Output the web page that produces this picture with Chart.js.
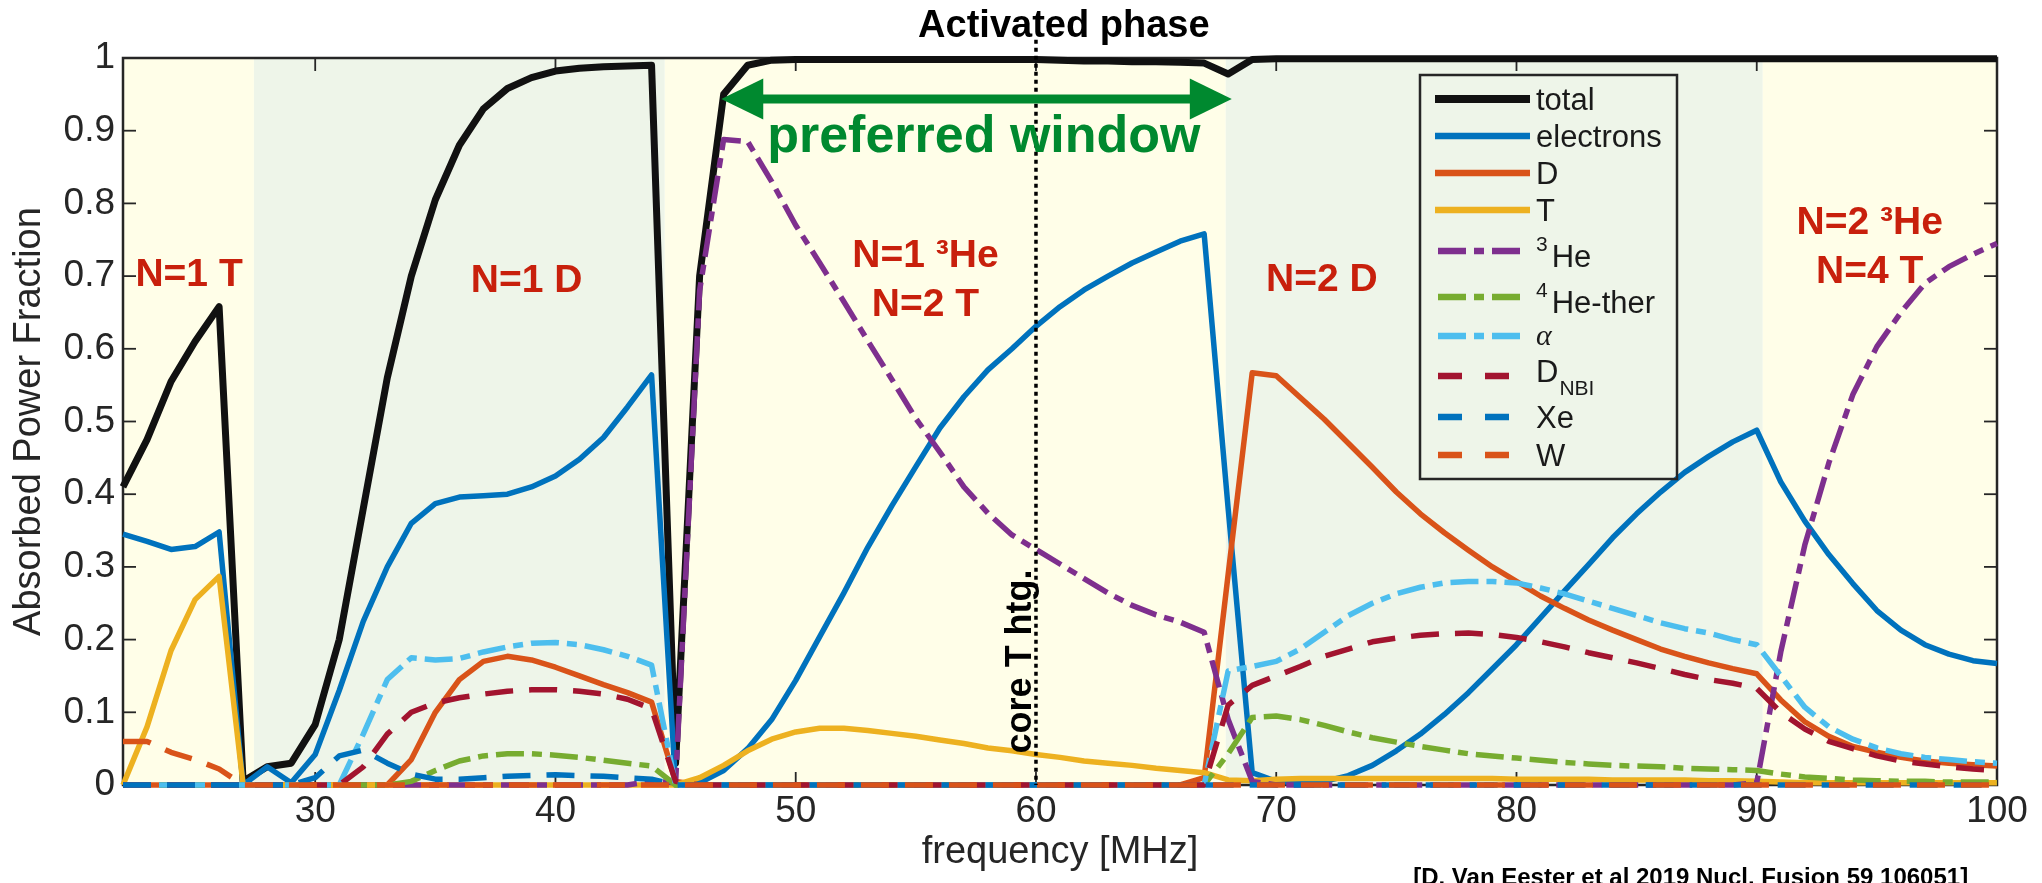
<!DOCTYPE html>
<html>
<head>
<meta charset="utf-8">
<title>Absorbed power fraction vs frequency</title>
<script src="https://cdn.jsdelivr.net/npm/chart.js@4.4.1/dist/chart.umd.min.js"></script>
<style>
  html, body { margin: 0; padding: 0; background: #fff; }
  canvas { display: block; }
</style>
</head>
<body>
<canvas id="chart" width="2042" height="883"></canvas>
<script>
// frequency grid [MHz]
const freq = [22, 23, 24, 25, 26, 27, 28, 29,
  30, 31, 32, 33, 34, 35, 36, 37, 38, 39,
  40, 41, 42, 43, 44, 45, 46, 47, 48, 49,
  50, 51, 52, 53, 54, 55, 56, 57, 58, 59,
  60, 61, 62, 63, 64, 65, 66, 67, 68, 69,
  70, 71, 72, 73, 74, 75, 76, 77, 78, 79,
  80, 81, 82, 83, 84, 85, 86, 87, 88, 89,
  90, 91, 92, 93, 94, 95, 96, 97, 98, 99,
  100];

// absorbed power fractions, one value per frequency
const total = [0.41, 0.475, 0.555, 0.61, 0.658, 0.005, 0.025, 0.03,
  0.083, 0.2, 0.38, 0.56, 0.70, 0.805, 0.88, 0.93, 0.958, 0.973,
  0.982, 0.986, 0.988, 0.989, 0.99, 0.03, 0.70, 0.95, 0.99, 0.997,
  0.998, 0.998, 0.998, 0.998, 0.998, 0.998, 0.998, 0.998, 0.998, 0.998,
  0.998, 0.997, 0.996, 0.996, 0.995, 0.995, 0.994, 0.993, 0.978, 0.998,
  0.999, 0.999, 0.999, 0.999, 0.999, 0.999, 0.999, 0.999, 0.999, 0.999,
  0.999, 0.999, 0.999, 0.999, 0.999, 0.999, 0.999, 0.999, 0.999, 0.999,
  0.999, 0.999, 0.999, 0.999, 0.999, 0.999, 0.999, 0.999, 0.999, 0.999,
  0.999];

const electrons = [0.345, 0.335, 0.324, 0.328, 0.348, 0.0, 0.025, 0.003,
  0.042, 0.13, 0.225, 0.30, 0.36, 0.387, 0.396, 0.398, 0.40, 0.41,
  0.425, 0.448, 0.478, 0.52, 0.564, 0.0, 0.003, 0.02, 0.05, 0.09,
  0.144, 0.204, 0.264, 0.327, 0.384, 0.438, 0.491, 0.534, 0.571, 0.60,
  0.631, 0.658, 0.681, 0.70, 0.718, 0.733, 0.748, 0.758, 0.38, 0.017,
  0.005, 0.003, 0.005, 0.013, 0.027, 0.047, 0.07, 0.097, 0.127, 0.16,
  0.193, 0.23, 0.267, 0.303, 0.34, 0.373, 0.403, 0.43, 0.452, 0.472,
  0.488, 0.417, 0.363, 0.317, 0.277, 0.24, 0.213, 0.193, 0.18, 0.171,
  0.167];

const deuterium = [0, 0, 0, 0, 0, 0, 0, 0,
  0, 0, 0, 0, 0.035, 0.10, 0.145, 0.17, 0.177, 0.172,
  0.162, 0.15, 0.138, 0.127, 0.114, 0.005, 0, 0, 0, 0,
  0, 0, 0, 0, 0, 0, 0, 0, 0, 0,
  0, 0, 0, 0, 0, 0, 0, 0.01, 0.29, 0.567,
  0.563, 0.533, 0.503, 0.47, 0.437, 0.403, 0.373, 0.347, 0.323, 0.30,
  0.28, 0.26, 0.243, 0.227, 0.213, 0.20, 0.187, 0.177, 0.168, 0.16,
  0.153, 0.117, 0.087, 0.067, 0.053, 0.045, 0.038, 0.033, 0.03, 0.028,
  0.026];

const tritium = [0, 0.08, 0.185, 0.255, 0.287, 0, 0, 0,
  0, 0, 0, 0, 0, 0, 0, 0, 0, 0,
  0, 0, 0, 0, 0, 0, 0.01, 0.027, 0.047, 0.063,
  0.073, 0.078, 0.078, 0.075, 0.071, 0.067, 0.062, 0.057, 0.051, 0.047,
  0.042, 0.038, 0.033, 0.03, 0.027, 0.023, 0.02, 0.017, 0.007, 0.006,
  0.008, 0.009, 0.009, 0.009, 0.009, 0.009, 0.009, 0.009, 0.009, 0.009,
  0.008, 0.008, 0.008, 0.008, 0.007, 0.007, 0.007, 0.007, 0.006, 0.006,
  0.005, 0.004, 0.003, 0.003, 0.003, 0.003, 0.003, 0.003, 0.003, 0.003,
  0.003];

const helium3 = [0, 0, 0, 0, 0, 0, 0, 0,
  0, 0, 0, 0, 0, 0, 0, 0, 0, 0,
  0, 0, 0, 0, 0.005, 0.003, 0.68, 0.888, 0.885, 0.83,
  0.77, 0.718, 0.665, 0.611, 0.558, 0.504, 0.458, 0.41, 0.374, 0.344,
  0.324, 0.304, 0.284, 0.264, 0.247, 0.234, 0.224, 0.21, 0.09, 0.005,
  0, 0, 0, 0, 0, 0, 0, 0, 0, 0,
  0, 0, 0, 0, 0, 0, 0, 0, 0, 0,
  0.003, 0.183, 0.33, 0.443, 0.537, 0.603, 0.65, 0.69, 0.713, 0.73,
  0.745];

const helium4Ther = [0, 0, 0, 0, 0, 0, 0, 0,
  0, 0, 0, 0, 0.005, 0.02, 0.033, 0.04, 0.043, 0.043,
  0.041, 0.038, 0.034, 0.03, 0.026, 0, 0, 0, 0, 0,
  0, 0, 0, 0, 0, 0, 0, 0, 0, 0,
  0, 0, 0, 0, 0, 0, 0, 0, 0.043, 0.093,
  0.095, 0.09, 0.082, 0.073, 0.065, 0.059, 0.053, 0.048, 0.043, 0.04,
  0.037, 0.034, 0.031, 0.029, 0.027, 0.026, 0.025, 0.023, 0.022, 0.021,
  0.02, 0.015, 0.011, 0.009, 0.007, 0.006, 0.005, 0.005, 0.004, 0.004,
  0.004];

const alphas = [0, 0, 0, 0, 0, 0, 0, 0,
  0, 0, 0.07, 0.145, 0.175, 0.172, 0.174, 0.183, 0.19, 0.195,
  0.196, 0.193, 0.186, 0.177, 0.165, 0, 0, 0, 0, 0,
  0, 0, 0, 0, 0, 0, 0, 0, 0, 0,
  0, 0, 0, 0, 0, 0, 0, 0, 0.157, 0.163,
  0.17, 0.187, 0.21, 0.233, 0.25, 0.263, 0.272, 0.278, 0.28, 0.28,
  0.278, 0.271, 0.263, 0.253, 0.243, 0.233, 0.223, 0.215, 0.209, 0.2,
  0.193, 0.15, 0.107, 0.08, 0.063, 0.051, 0.043, 0.038, 0.035, 0.032,
  0.03];

const deutNbi = [0, 0, 0, 0, 0, 0, 0, 0,
  0, 0, 0.025, 0.07, 0.1, 0.113, 0.12, 0.125, 0.129, 0.131,
  0.131, 0.129, 0.125, 0.118, 0.105, 0.005, 0, 0, 0, 0,
  0, 0, 0, 0, 0, 0, 0, 0, 0, 0,
  0, 0, 0, 0, 0, 0, 0, 0, 0.11, 0.137,
  0.15, 0.163, 0.177, 0.187, 0.197, 0.202, 0.206, 0.208, 0.209, 0.207,
  0.203, 0.197, 0.19, 0.182, 0.175, 0.168, 0.16, 0.152, 0.145, 0.14,
  0.133, 0.1, 0.077, 0.06, 0.05, 0.04, 0.033, 0.029, 0.025, 0.022,
  0.02];

const xenon = [0, 0, 0, 0, 0, 0, 0, 0,
  0.01, 0.04, 0.048, 0.03, 0.015, 0.008, 0.008, 0.01, 0.012, 0.013,
  0.014, 0.013, 0.012, 0.01, 0.008, 0, 0, 0, 0, 0,
  0, 0, 0, 0, 0, 0, 0, 0, 0, 0,
  0, 0, 0, 0, 0, 0, 0, 0, 0, 0,
  0, 0, 0, 0, 0, 0, 0, 0, 0, 0,
  0, 0, 0, 0, 0, 0, 0, 0, 0, 0,
  0, 0, 0, 0, 0, 0, 0, 0, 0, 0,
  0];

const tungsten = [0.06, 0.06, 0.045, 0.035, 0.022, 0, 0, 0,
  0, 0, 0, 0, 0, 0, 0, 0, 0, 0,
  0, 0, 0, 0, 0, 0, 0, 0, 0, 0,
  0, 0, 0, 0, 0, 0, 0, 0, 0, 0,
  0, 0, 0, 0, 0, 0, 0, 0, 0, 0,
  0, 0, 0, 0, 0, 0, 0, 0, 0, 0,
  0, 0, 0, 0, 0, 0, 0, 0, 0, 0,
  0, 0, 0, 0, 0, 0, 0, 0, 0, 0,
  0];

// legend names (^ = superscript char, _ = subscript rest)
const seriesNames = ['total', 'electrons', 'D', 'T', '^3He', '^4He-ther', 'α', 'D_NBI', 'Xe', 'W'];
const seriesValues = [total, electrons, deuterium, tritium, helium3, helium4Ther, alphas, deutNbi, xenon, tungsten];

// axis ticks
const xTicks = [30, 40, 50, 60, 70, 80, 90, 100];
const yTicks = [0, 0.1, 0.2, 0.3, 0.4, 0.5, 0.6, 0.7, 0.8, 0.9, 1];

// shaded resonance windows [MHz]
const regionFrom = [22, 27.45, 44.55, 67.9, 90.25];
const regionTo = [27.45, 44.55, 67.9, 90.25, 100];

// ---- styles ----
const FONT = "'Liberation Sans', Arial, Helvetica, sans-serif";
const AXIS_COLOR = '#262626';
const RED = '#c8200c';
const GREEN = '#00892f';
const regionColors = ['#fffee8', '#eef5e9', '#fffee8', '#eef5e9', '#fffee8'];
const DASH = [28, 16];
const DASHDOT = [28, 8, 10, 8];
const lineStyles = [
  { color: '#111111', width: 7, dash: [] },
  { color: '#0072bd', width: 5.5, dash: [] },
  { color: '#d95319', width: 5.5, dash: [] },
  { color: '#edb120', width: 5.5, dash: [] },
  { color: '#7e2f8e', width: 5.5, dash: DASHDOT },
  { color: '#77ac30', width: 5.5, dash: DASHDOT },
  { color: '#4dbeee', width: 5.5, dash: DASHDOT },
  { color: '#a2142f', width: 5.5, dash: DASH },
  { color: '#0072bd', width: 5.5, dash: DASH },
  { color: '#d95319', width: 5.5, dash: DASH }
];

function drawText(ctx, str, px, py, font, color, align) {
  ctx.font = font;
  ctx.fillStyle = color;
  ctx.textAlign = align || 'center';
  ctx.textBaseline = 'alphabetic';
  ctx.fillText(str, px, py);
}

function line(ctx, x0, y0, x1, y1) {
  ctx.beginPath();
  ctx.moveTo(x0, y0);
  ctx.lineTo(x1, y1);
  ctx.stroke();
}

// background windows + matlab-like box, drawn under the curves
const backgroundPlugin = {
  id: 'background',
  beforeDatasetsDraw(chart) {
    const { ctx, chartArea: a, scales: { x, y } } = chart;
    ctx.save();
    regionFrom.forEach((f, i) => {
      const x0 = x.getPixelForValue(f);
      const x1 = x.getPixelForValue(regionTo[i]);
      ctx.fillStyle = regionColors[i];
      ctx.fillRect(x0, a.top, x1 - x0, a.bottom - a.top);
    });
    ctx.strokeStyle = AXIS_COLOR;
    ctx.lineWidth = 2.5;
    ctx.strokeRect(a.left, a.top, a.right - a.left, a.bottom - a.top);
    ctx.lineWidth = 1.8;
    xTicks.forEach(v => {
      const px = x.getPixelForValue(v);
      line(ctx, px, a.bottom, px, a.bottom - 13);
      line(ctx, px, a.top, px, a.top + 13);
    });
    yTicks.forEach(v => {
      const py = y.getPixelForValue(v);
      line(ctx, a.left, py, a.left + 13, py);
      line(ctx, a.right, py, a.right - 13, py);
    });
    ctx.restore();
  }
};

// notes, arrow, dotted marker and legend on top
const notesPlugin = {
  id: 'notes',
  afterDatasetsDraw(chart) {
    const { ctx, chartArea: a, scales: { x, y } } = chart;
    ctx.save();

    // core T heating marker at 60 MHz
    ctx.strokeStyle = '#000';
    ctx.lineWidth = 3.5;
    ctx.setLineDash([4, 4]);
    line(ctx, x.getPixelForValue(60), y.getPixelForValue(1.025), x.getPixelForValue(60), a.bottom);
    ctx.setLineDash([]);

    drawText(ctx, 'Activated phase', x.getPixelForValue(61.16), y.getPixelForValue(1.029), 'bold 38px ' + FONT, '#000');

    // preferred window arrow
    const ay = y.getPixelForValue(0.9436);
    const xl = x.getPixelForValue(46.9);
    const xr = x.getPixelForValue(68.15);
    const head = 42, half = 20.5;
    ctx.strokeStyle = GREEN;
    ctx.fillStyle = GREEN;
    ctx.lineWidth = 9;
    line(ctx, xl + head - 2, ay, xr - head + 2, ay);
    ctx.beginPath();
    ctx.moveTo(xl, ay); ctx.lineTo(xl + head, ay - half); ctx.lineTo(xl + head, ay + half);
    ctx.closePath(); ctx.fill();
    ctx.beginPath();
    ctx.moveTo(xr, ay); ctx.lineTo(xr - head, ay - half); ctx.lineTo(xr - head, ay + half);
    ctx.closePath(); ctx.fill();
    drawText(ctx, 'preferred window', x.getPixelForValue(57.83), y.getPixelForValue(0.8707), 'bold 52px ' + FONT, GREEN);

    // resonance labels
    const red = 'bold 39px ' + FONT;
    drawText(ctx, 'N=1 T', x.getPixelForValue(24.75), y.getPixelForValue(0.686), red, RED);
    drawText(ctx, 'N=1 D', x.getPixelForValue(38.8), y.getPixelForValue(0.678), red, RED);
    drawText(ctx, 'N=1 ³He', x.getPixelForValue(55.4), y.getPixelForValue(0.7125), red, RED);
    drawText(ctx, 'N=2 T', x.getPixelForValue(55.4), y.getPixelForValue(0.645), red, RED);
    drawText(ctx, 'N=2 D', x.getPixelForValue(71.9), y.getPixelForValue(0.68), red, RED);
    drawText(ctx, 'N=2 ³He', x.getPixelForValue(94.7), y.getPixelForValue(0.758), red, RED);
    drawText(ctx, 'N=4 T', x.getPixelForValue(94.7), y.getPixelForValue(0.69), red, RED);

    // rotated marker label
    ctx.save();
    ctx.translate(x.getPixelForValue(59.78), y.getPixelForValue(0.17));
    ctx.rotate(-Math.PI / 2);
    drawText(ctx, 'core T htg.', 0, 0, 'bold 36px ' + FONT, '#000');
    ctx.restore();

    // reference
    drawText(ctx, '[D. Van Eester et al 2019 Nucl. Fusion 59 106051]', x.getPixelForValue(87.25), chart.height + 2, 'bold 24px ' + FONT, '#000');

    // legend box
    const lx0 = 1420, ly0 = 75, lx1 = 1677, ly1 = 479;
    ctx.strokeStyle = AXIS_COLOR;
    ctx.lineWidth = 2.5;
    ctx.strokeRect(lx0, ly0, lx1 - lx0, ly1 - ly0);
    const rowY = [99, 136, 173, 210, 251, 297, 336, 376, 417, 455];
    const tx = 1536;
    chart.data.datasets.forEach((ds, i) => {
      const ry = rowY[i];
      ctx.strokeStyle = ds.borderColor;
      ctx.lineWidth = ds.borderWidth + 1;
      ctx.lineCap = 'butt';
      const dashed = ds.borderDash.length > 0;
      ctx.setLineDash(dashed && ds.borderDash.length === 2 ? [24, 23] : ds.borderDash);
      line(ctx, dashed ? 1438 : 1435, ry, dashed ? 1526 : 1530, ry);
      ctx.setLineDash([]);
      const name = seriesNames[i];
      const base = '31px ' + FONT, small = '21px ' + FONT;
      if (name[0] === '^') {
        drawText(ctx, name[1], tx, ry, small, '#1a1a1a', 'left');
        ctx.font = small;
        const w = ctx.measureText(name[1]).width;
        drawText(ctx, name.slice(2), tx + w + 4, ry + 16, base, '#1a1a1a', 'left');
      } else if (name.indexOf('_') > 0) {
        const [main, sub] = name.split('_');
        drawText(ctx, main, tx, ry + 6, base, '#1a1a1a', 'left');
        ctx.font = base;
        const w = ctx.measureText(main).width;
        drawText(ctx, sub, tx + w + 1, ry + 19, small, '#1a1a1a', 'left');
      } else if (name === 'α') {
        drawText(ctx, name, tx, ry + 9, "italic 30px 'Liberation Serif', 'DejaVu Serif', serif", '#1a1a1a', 'left');
      } else {
        drawText(ctx, name, tx, ry + 11, base, '#1a1a1a', 'left');
      }
    });

    ctx.restore();
  }
};

const datasets = seriesValues.map((vals, i) => ({
  label: seriesNames[i],
  data: freq.map((f, k) => ({ x: f, y: vals[k] })),
  borderColor: lineStyles[i].color,
  borderWidth: lineStyles[i].width,
  borderDash: lineStyles[i].dash,
  borderCapStyle: 'butt',
  borderJoinStyle: 'round',
  pointRadius: 0,
  tension: 0,
  fill: false,
  clip: 8,
  order: seriesValues.length - i
}));

new Chart(document.getElementById('chart'), {
  type: 'line',
  data: { datasets },
  options: {
    responsive: false,
    animation: false,
    devicePixelRatio: 1,
    layout: { padding: { left: 0, right: 45, top: 58, bottom: 0 } },
    plugins: { legend: { display: false }, tooltip: { enabled: false } },
    scales: {
      x: {
        type: 'linear',
        min: 22,
        max: 100,
        afterFit: s => { s.height = 98; },
        afterBuildTicks: s => { s.ticks = xTicks.map(v => ({ value: v })); },
        grid: { display: false, drawTicks: false },
        border: { display: false },
        ticks: {
          autoSkip: false, maxRotation: 0, padding: 5,
          color: AXIS_COLOR, font: { family: FONT, size: 37 }
        },
        title: {
          display: true, text: 'frequency [MHz]', color: AXIS_COLOR,
          font: { family: FONT, size: 38 }, padding: { top: 0, bottom: 8 }
        }
      },
      y: {
        type: 'linear',
        min: 0,
        max: 1,
        afterFit: s => { s.width = 123; },
        afterBuildTicks: s => { s.ticks = yTicks.map(v => ({ value: v })); },
        grid: { display: false, drawTicks: false },
        border: { display: false },
        ticks: {
          autoSkip: false, padding: 8,
          color: AXIS_COLOR, font: { family: FONT, size: 37 },
          callback: v => (v === 0 || v === 1) ? String(v) : v.toFixed(1)
        },
        title: {
          display: true, text: 'Absorbed Power Fraction', color: AXIS_COLOR,
          font: { family: FONT, size: 38 }, padding: { top: 7, bottom: 0 }
        }
      }
    }
  },
  plugins: [backgroundPlugin, notesPlugin]
});
</script>
</body>
</html>
